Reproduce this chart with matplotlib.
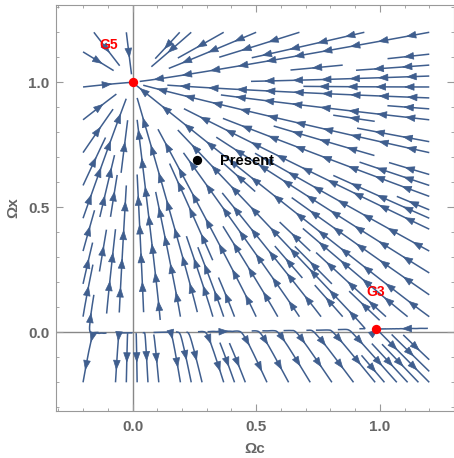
import numpy as np
import matplotlib.pyplot as plt
from matplotlib.patches import FancyArrowPatch

plt.rcParams["font.family"] = ["Liberation Sans", "DejaVu Sans"]

# model parameters: dark-energy equation of state and interaction strength
W_X = -1.0
B_INT = -0.014

# grid range of the phase portrait
OMEGA_RANGE = [-0.2, 1.2]

# labelled points
point_names = ["G5", "G3", "Present"]
point_oc = [0.0, 0.984, 0.26]
point_ox = [1.0, 0.014, 0.69]
point_colors = ["red", "red", "black"]

line_color = "#3f5e8e"
gray = "#666666"


def field(oc, ox):
    d_oc = 3.0 * W_X * oc * ox - 3.0 * B_INT * oc
    d_ox = -3.0 * W_X * ox * (1.0 - ox) + 3.0 * B_INT * oc
    return d_oc, d_ox


fig = plt.figure(figsize=(4.54, 4.58), dpi=100)
ax = fig.add_axes([0.123, 0.103, 0.877, 0.886])

g = np.linspace(OMEGA_RANGE[0], OMEGA_RANGE[1], 140)
X, Y = np.meshgrid(g, g)
U, V = field(X, Y)
sp = ax.streamplot(X, Y, U, V, density=1.1, color=line_color, linewidth=1.1,
                   arrowstyle="-", zorder=2)
# drop the single default arrows, redraw several along each line
for p in list(ax.patches):
    p.remove()

paths = []
cur = None
for s in sp.lines.get_segments():
    if cur is not None and np.allclose(s[0], cur[-1]):
        cur.extend(s[1:])
    else:
        cur = list(s)
        paths.append(cur)

spacing = 0.115
for path in paths:
    pts = np.array(path)
    d = np.hypot(*np.diff(pts, axis=0).T)
    arc = np.concatenate([[0], np.cumsum(d)])
    total = arc[-1]
    if total < 0.03:
        continue
    n = max(1, int(total / spacing))
    start = (total - (n - 1) * spacing) / 2
    for k in range(n):
        s1 = min(start + k * spacing + 0.02, total)
        s0 = s1 - 0.02
        a = np.array([np.interp(s0, arc, pts[:, 0]), np.interp(s0, arc, pts[:, 1])])
        b = np.array([np.interp(s1, arc, pts[:, 0]), np.interp(s1, arc, pts[:, 1])])
        # point each head along the local flow
        u, v = field(*((a + b) / 2))
        if u * (b[0] - a[0]) + v * (b[1] - a[1]) < 0:
            a, b = b, a
        ax.add_patch(FancyArrowPatch(tuple(a), tuple(b),
                                     arrowstyle="-|>,head_length=0.65,head_width=0.24",
                                     mutation_scale=10, shrinkA=0, shrinkB=0,
                                     color=line_color, lw=0.5, zorder=3))

ax.axhline(0, color="#888888", lw=1.0, zorder=1)
ax.axvline(0, color="#888888", lw=1.0, zorder=1)

for name, x, y, c in zip(point_names, point_oc, point_ox, point_colors):
    ax.scatter([x], [y], s=45, color=c, zorder=5, linewidths=0)

ax.text(-0.098, 1.149, "G5", color="red", fontsize=10, fontweight="bold",
        ha="center", va="center", zorder=6)
ax.text(0.983, 0.161, "G3", color="red", fontsize=10, fontweight="bold",
        ha="center", va="center", zorder=6)
ax.text(0.352, 0.685, "Present", color="black", fontsize=10.5, fontweight="bold",
        ha="left", va="center", zorder=6)

ax.set_xlim(-0.31, 1.28)
ax.set_ylim(-0.314, 1.309)

ax.set_xticks([0.0, 0.5, 1.0])
ax.set_yticks([0.0, 0.5, 1.0])
ax.set_xticks(np.arange(-0.3, 1.31, 0.1), minor=True)
ax.set_yticks(np.arange(-0.3, 1.31, 0.1), minor=True)
ax.tick_params(which="both", direction="in", top=True, right=True, color="#999999")
ax.tick_params(which="major", length=5, labelsize=11, labelcolor=gray)
ax.tick_params(axis="x", which="major", pad=6.5)
ax.tick_params(axis="y", which="major", pad=4.5)
ax.tick_params(which="minor", length=2.5)
for lab in ax.get_xticklabels() + ax.get_yticklabels():
    lab.set_fontweight("bold")

for s in ax.spines.values():
    s.set_color("#999999")

ax.set_xlabel("Ωc", color=gray, fontsize=11, fontweight="bold", labelpad=6)
ax.set_ylabel("Ωx", color=gray, fontsize=11, fontweight="bold", labelpad=6)

fig.savefig("out.png", dpi=100)
